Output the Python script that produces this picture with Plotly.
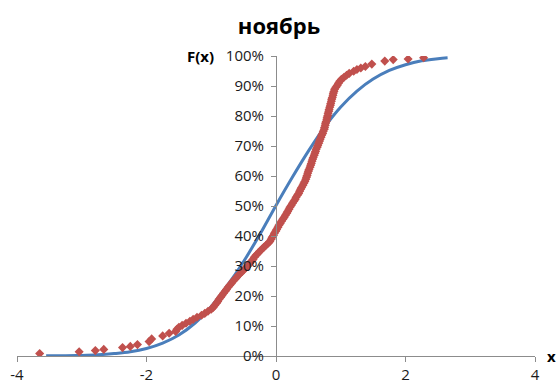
import plotly.graph_objects as go

# Empirical distribution (red diamonds): x values and F(x) in percent
emp_x = [-3.65, -3.04, -2.79, -2.66, -2.37, -2.25, -2.14, -1.96, -1.92, -1.75, -1.65, -1.55,
         -1.53, -1.50, -1.45, -1.39, -1.33, -1.28, -1.22, -1.15, -1.10, -1.05, -1.00, -0.97,
         -0.945, -0.92, -0.90, -0.88, -0.855, -0.835, -0.81, -0.785, -0.765, -0.74, -0.715, -0.69,
         -0.665, -0.635, -0.61, -0.58, -0.55, -0.52, -0.49, -0.455, -0.43, -0.405, -0.38, -0.355,
         -0.335, -0.31, -0.28, -0.25, -0.22, -0.19, -0.155, -0.12, -0.095, -0.075, -0.06, -0.04,
         -0.025, -0.005, 0.01, 0.03, 0.045, 0.065, 0.085, 0.105, 0.125, 0.145, 0.165, 0.18,
         0.20, 0.215, 0.235, 0.255, 0.275, 0.295, 0.31, 0.33, 0.35, 0.365, 0.38, 0.395,
         0.415, 0.43, 0.445, 0.46, 0.47, 0.48, 0.49, 0.50, 0.51, 0.525, 0.535, 0.545,
         0.555, 0.565, 0.575, 0.59, 0.60, 0.61, 0.62, 0.635, 0.645, 0.66, 0.67, 0.68,
         0.695, 0.705, 0.72, 0.73, 0.745, 0.75, 0.76, 0.765, 0.775, 0.785, 0.79, 0.80,
         0.805, 0.815, 0.82, 0.83, 0.84, 0.845, 0.855, 0.86, 0.87, 0.88, 0.885, 0.895,
         0.905, 0.925, 0.945, 0.965, 0.985, 1.01, 1.05, 1.09, 1.13, 1.20, 1.25, 1.31,
         1.38, 1.48, 1.68, 1.81, 2.04, 2.28]
emp_y = [0.8, 1.4, 1.8, 2.2, 2.8, 3.2, 3.8, 4.8, 5.7, 6.7, 7.6, 8.2,
         8.9, 9.6, 10.2, 10.9, 11.6, 12.2, 12.9, 13.6, 14.2, 14.9, 15.6, 16.2,
         16.9, 17.6, 18.2, 18.9, 19.6, 20.2, 20.9, 21.6, 22.2, 22.9, 23.6, 24.2,
         24.9, 25.6, 26.2, 26.9, 27.6, 28.2, 28.9, 29.6, 30.2, 30.9, 31.6, 32.2,
         32.9, 33.6, 34.2, 34.9, 35.6, 36.2, 36.9, 37.6, 38.2, 38.9, 39.6, 40.2,
         40.9, 41.6, 42.2, 42.9, 43.6, 44.2, 44.9, 45.6, 46.2, 46.9, 47.6, 48.2,
         48.9, 49.6, 50.2, 50.9, 51.6, 52.2, 52.9, 53.6, 54.2, 54.9, 55.6, 56.2,
         56.9, 57.6, 58.2, 58.9, 59.6, 60.2, 60.9, 61.6, 62.2, 62.9, 63.6, 64.2,
         64.9, 65.6, 66.2, 66.9, 67.6, 68.2, 68.9, 69.6, 70.2, 70.9, 71.6, 72.2,
         72.9, 73.6, 74.2, 74.9, 75.6, 76.2, 76.9, 77.6, 78.2, 78.9, 79.6, 80.2,
         80.9, 81.6, 82.2, 82.9, 83.6, 84.2, 84.9, 85.6, 86.2, 86.9, 87.6, 88.2,
         88.9, 89.6, 90.2, 90.9, 91.6, 92.2, 92.9, 93.6, 94.2, 94.9, 95.5, 96.0,
         96.5, 97.3, 98.3, 98.8, 99.0, 99.4]

# Theoretical distribution (blue line)
th_x = [-3.55, -3.25, -3.0, -2.75, -2.5, -2.25, -2.0, -1.75, -1.5, -1.25, -1.0, -0.75, -0.5,
        -0.25, 0.0, 0.25, 0.5, 0.75, 1.0, 1.25, 1.5, 1.75, 2.0, 2.25, 2.5, 2.65]
th_y = [0.05, 0.1, 0.2, 0.4, 0.8, 1.4, 2.5, 4.3, 7.0, 11.0, 16.5, 23.5, 31.5,
        40.5, 50.2, 59.5, 68.3, 76.3, 83.0, 88.3, 92.3, 95.2, 97.1, 98.4, 99.1, 99.4]

x_ticks = [-4, -2, 0, 2, 4]
y_ticks = [0, 10, 20, 30, 40, 50, 60, 70, 80, 90, 100]
y_tick_labels = [f"{v}%" for v in y_ticks]

title_text = "ноябрь"
y_label = "F(x)"
x_label = "x"

FONT = "Open Sans"
axis_col = "#8c8c8c"

fig = go.Figure()
fig.add_trace(go.Scatter(x=th_x, y=th_y, mode="lines",
                         line=dict(color="#4a7ebb", width=3, shape="spline"),
                         showlegend=False))
fig.add_trace(go.Scatter(x=emp_x, y=emp_y, mode="markers",
                         marker=dict(symbol="diamond", size=7, color="#c0504d"),
                         showlegend=False))

fig.update_layout(
    width=558, height=383,
    margin=dict(l=17, r=23, t=56, b=27, autoexpand=False),
    paper_bgcolor="white", plot_bgcolor="white",
    title=dict(text=f"<b>{title_text}</b>", x=0.5, xanchor="center",
               y=1 - 26 / 383, yanchor="middle",
               font=dict(family=FONT, size=22, color="black")),
    xaxis=dict(range=[-4, 4], tickvals=x_ticks, ticktext=[str(v) for v in x_ticks],
               automargin=False,
               showgrid=False, zeroline=False, showline=True, linecolor=axis_col, linewidth=1,
               ticks="outside", ticklen=5, tickcolor=axis_col,
               tickfont=dict(family=FONT, size=15, color="#1a1a1a")),
    yaxis=dict(range=[0, 100], tickvals=y_ticks, ticktext=y_tick_labels,
               anchor="free", position=0.5, automargin=False,
               showgrid=False, zeroline=False, showline=True, linecolor=axis_col, linewidth=1,
               ticks="outside", ticklen=5, tickcolor=axis_col, ticklabelstandoff=4,
               tickfont=dict(family=FONT, size=15, color="#1a1a1a")),
    annotations=[
        dict(text=f"<b>{y_label}</b>", xref="paper", yref="paper", x=(200 - 17) / 518,
             y=1.0, xanchor="center", yanchor="middle", showarrow=False,
             font=dict(family=FONT, size=15, color="black")),
        dict(text=f"<b>{x_label}</b>", xref="paper", yref="paper", x=(558 - 17) / 518,
             y=0.0, xanchor="right", yanchor="middle", showarrow=False,
             font=dict(family=FONT, size=15, color="black")),
    ],
)

fig.write_html("out.html")
